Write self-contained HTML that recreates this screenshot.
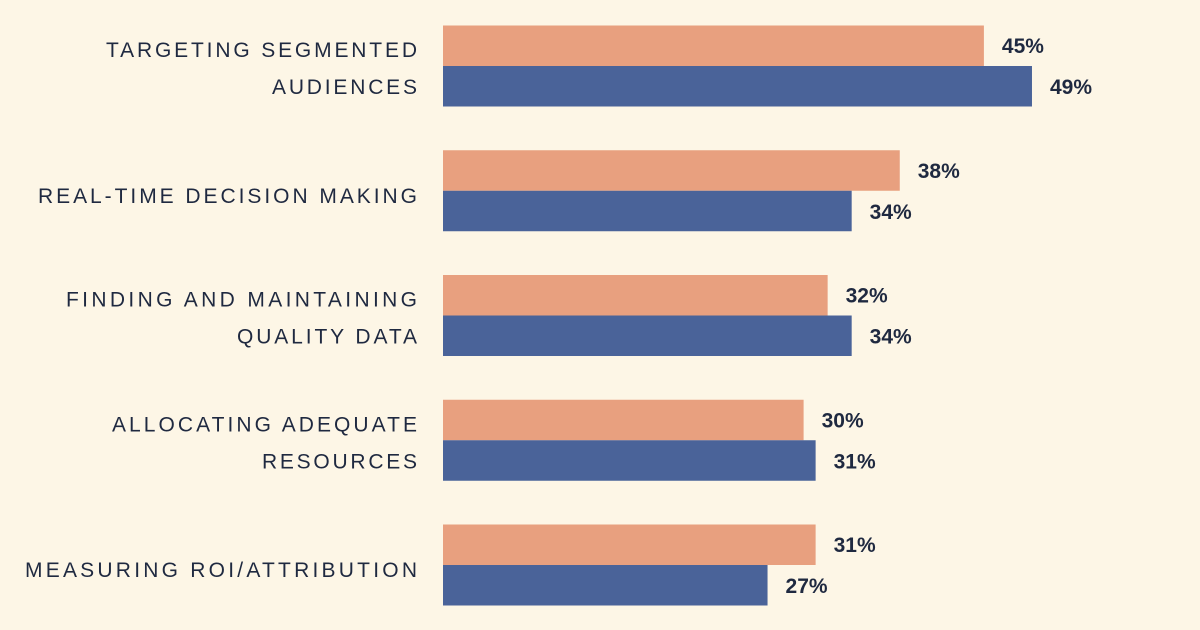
<!DOCTYPE html>
<html><head><meta charset="utf-8"><style>
html,body{margin:0;padding:0;background:#FDF6E6;}
svg{display:block;font-family:"Liberation Sans",sans-serif;}
</style></head><body>
<svg id="chart" width="1200" height="630" viewBox="0 0 1200 630" xmlns="http://www.w3.org/2000/svg">
<rect width="1200" height="630" fill="#FDF6E6"/>
<g id="bars"></g>
</svg>
<script>
const categories = [["TARGETING SEGMENTED","AUDIENCES"],["REAL-TIME DECISION MAKING"],["FINDING AND MAINTAINING","QUALITY DATA"],["ALLOCATING ADEQUATE","RESOURCES"],["MEASURING ROI/ATTRIBUTION"]];
const seriesA = [45, 38, 32, 30, 31];
const seriesB = [49, 34, 34, 31, 27];
const labelWidths = [[311,145],[379],[351,180],[305,155],[392]];

const NS = "http://www.w3.org/2000/svg";
const g = document.getElementById("bars");
const x0 = 443, pxPer = 12.02;
const xScale = v => x0 + v * pxPer;
const yCenter = i => 66 + i * 124.75;
const bh = 40.5;
function mk(tag, attrs){ const e=document.createElementNS(NS,tag); for(const k in attrs) e.setAttribute(k,attrs[k]); g.appendChild(e); return e; }

categories.forEach((lines, i) => {
  const c = yCenter(i);
  const ra = mk("rect",{x:x0,y:c-bh,width:xScale(seriesA[i])-x0,height:bh,fill:"#E8A07F"});
  
  
  const rb = mk("rect",{x:x0,y:c,width:xScale(seriesB[i])-x0,height:bh,fill:"#4A6399"});
  
  
  const ta = mk("text",{x:xScale(seriesA[i])+18,y:c-13,"font-size":21,"font-weight":"bold",fill:"#1F2940"});
  ta.textContent = seriesA[i] + "%";
  
  
  const tb = mk("text",{x:xScale(seriesB[i])+18,y:c+28,"font-size":21,"font-weight":"bold",fill:"#1F2940"});
  tb.textContent = seriesB[i] + "%";
  
  
  const bases = lines.length === 2 ? [c-9, c+28] : [c+12];
  lines.forEach((ln, j) => {
    const w = labelWidths[i][j];
    const t = mk("text",{x:417-w,y:bases[j],"font-size":21,fill:"#1F2940",textLength:w,lengthAdjust:"spacing"});
    t.textContent = ln;
    
    
  });
});
</script>
</body></html>
